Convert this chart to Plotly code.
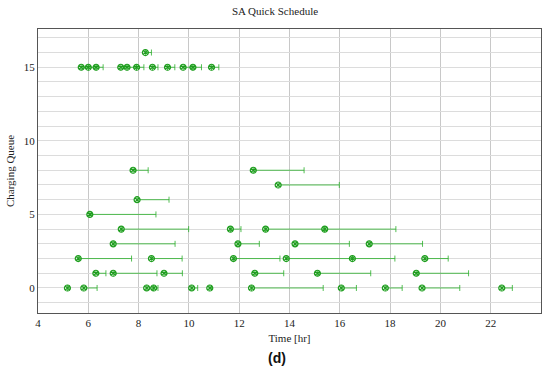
import plotly.graph_objects as go

# Charging sessions: queue index, start time [hr], end time [hr]
queue = (
    [16]
    + [15] * 11
    + [8, 8]
    + [7]
    + [6]
    + [5]
    + [4] * 4
    + [3] * 4
    + [2] * 6
    + [1] * 6
    + [0] * 11
)
start = (
    [8.27]
    + [5.72, 6.00, 6.31, 7.29, 7.54, 7.92, 8.55, 9.15, 9.77, 10.16, 10.90]
    + [7.78, 12.56]
    + [13.55]
    + [7.94]
    + [6.06]
    + [7.31, 11.65, 13.05, 15.40]
    + [6.99, 11.95, 14.22, 17.17]
    + [5.60, 8.51, 11.77, 13.87, 16.50, 19.38]
    + [6.30, 6.99, 9.01, 12.62, 15.11, 19.04]
    + [5.17, 5.82, 8.32, 8.60, 10.11, 10.83, 12.49, 16.06, 17.81, 19.27, 22.44]
)
end = (
    [8.51]
    + [6.00, 6.31, 6.59, 7.54, 7.92, 8.21, 8.77, 9.44, 10.16, 10.50, 11.19]
    + [8.38, 14.58]
    + [15.98]
    + [9.21]
    + [8.69]
    + [9.99, 12.07, 15.40, 18.23]
    + [9.45, 12.80, 16.38, 19.29]
    + [7.72, 9.73, 13.62, 16.50, 18.19, 20.31]
    + [6.70, 8.73, 9.74, 13.77, 17.23, 21.12]
    + [5.24, 6.35, 8.60, 8.77, 10.35, 10.90, 15.34, 16.66, 18.48, 20.77, 22.86]
)

x_ticks = [4, 6, 8, 10, 12, 14, 16, 18, 20, 22]
y_label_vals = [0, 5, 10, 15]

duration = [e - s for s, e in zip(start, end)]

GREEN = "#1f9e1f"
fig = go.Figure()
fig.add_trace(go.Scatter(
    x=start, y=queue, mode="markers",
    marker=dict(symbol="circle-x-open", size=6, color=GREEN,
                line=dict(width=1.2, color=GREEN)),
    error_x=dict(type="data", symmetric=False, array=duration,
                 arrayminus=[0] * len(duration),
                 color="rgba(40,175,40,0.8)", thickness=1, width=3),
    showlegend=False,
))

yt = list(range(-1, 18))
fig.update_layout(
    width=550, height=373,
    margin=dict(l=38, r=9, t=29, b=60, autoexpand=False),
    paper_bgcolor="white", plot_bgcolor="white",
    font=dict(family="Liberation Serif", size=11, color="#222"),
    title=dict(text="SA Quick Schedule", x=0.5, xanchor="center",
               y=0.98, yanchor="top", font=dict(size=11)),
    xaxis=dict(range=[4, 24], tickvals=x_ticks, showgrid=True,
               gridcolor="#c8c8c8", gridwidth=1, zeroline=False,
               showline=True, linecolor="#555", linewidth=1, mirror=True,
               ticks="", automargin=False,
               title=dict(text="Time [hr]", standoff=6,
                          font=dict(size=11))),
    yaxis=dict(range=[-1.7, 17.6], tickvals=yt,
               ticktext=[str(v) if v in y_label_vals else "" for v in yt],
               showgrid=True, gridcolor="#dcdcdc", gridwidth=1,
               zeroline=False, showline=True, linecolor="#555",
               linewidth=1, mirror=True, ticks="", automargin=False,
               title=dict(text="Charging Queue", standoff=6,
                          font=dict(size=11))),
    annotations=[dict(text="<b>(d)</b>", xref="paper", yref="paper",
                      x=0.475, y=-0.158, xanchor="center", yanchor="middle",
                      showarrow=False,
                      font=dict(family="Liberation Sans", size=14,
                                color="#111"))],
)

fig.write_html("out.html", config={"displayModeBar": False},
               post_script="document.body.style.margin='0';"
                           "document.body.style.padding='0';")
